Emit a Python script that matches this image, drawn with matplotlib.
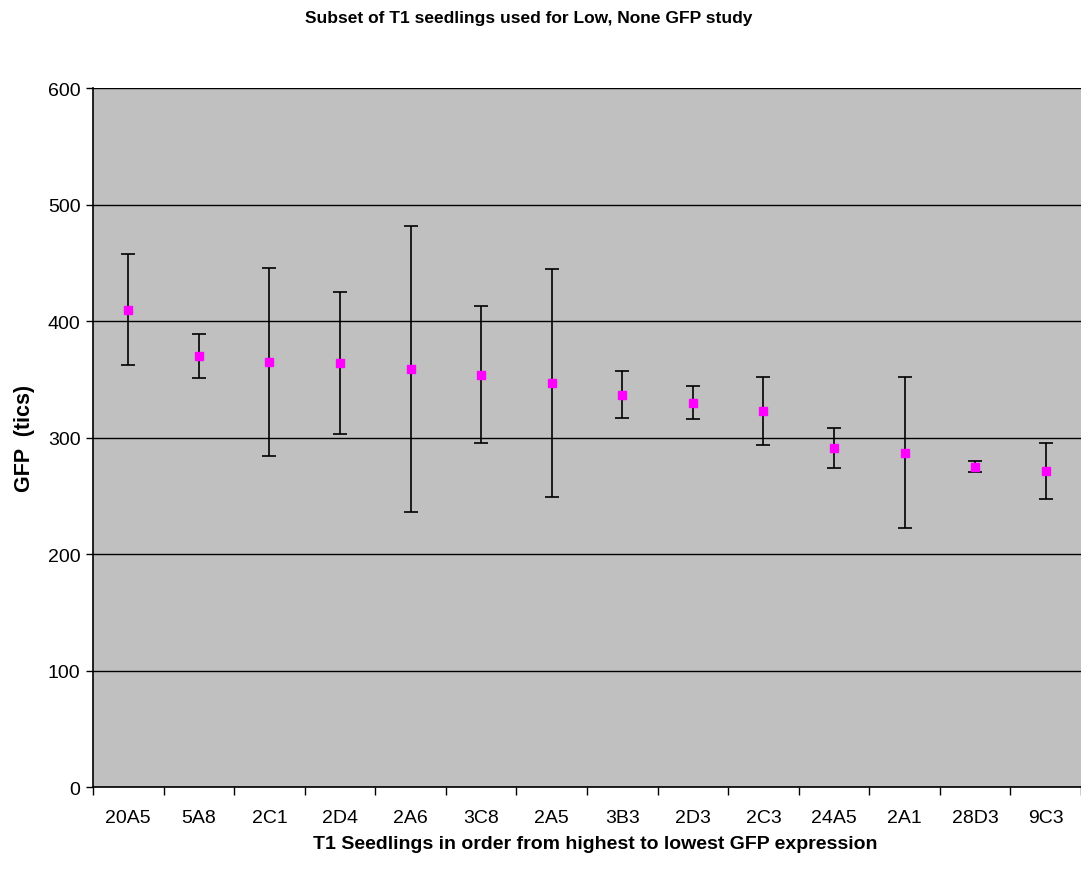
import matplotlib
matplotlib.use("Agg")
import matplotlib.pyplot as plt
import numpy as np

plt.rcParams['font.family'] = ['Liberation Sans', 'DejaVu Sans']

# T1 seedlings, highest to lowest mean GFP
seedlings = ['20A5', '5A8', '2C1', '2D4', '2A6', '3C8', '2A5',
             '3B3', '2D3', '2C3', '24A5', '2A1', '28D3', '9C3']
gfp_mean = [410, 370, 365, 364, 359, 354, 347, 337, 330, 323, 291, 287, 275, 271]
gfp_err = [48, 19, 81, 61, 123, 59, 98, 20, 14, 29, 17, 65, 4.5, 24]

fig = plt.figure(figsize=(10.81, 8.79), dpi=100)
ax = fig.add_axes([0.086, 0.1035, 0.914, 0.795])
ax.set_facecolor('#c0c0c0')

x = np.arange(len(seedlings))
ax.errorbar(x, gfp_mean, yerr=gfp_err, fmt='s', color='#ff00ff',
            markersize=6, ecolor='black', elinewidth=1.2,
            capsize=5, capthick=1.2, zorder=3)

ax.set_xlim(-0.5, len(seedlings) - 0.5)
ax.set_ylim(0, 600)
ax.set_yticks(range(0, 601, 100))
ax.yaxis.grid(True, color='black', linewidth=1)
ax.set_axisbelow(True)

# tick marks between categories, labels at category centres
ax.set_xticks(np.arange(-0.5, len(seedlings), 1.0))
ax.set_xticklabels([])
ax.set_xticks(x, minor=True)
ax.set_xticklabels(seedlings, minor=True)
ax.tick_params(axis='x', which='minor', length=0, pad=16, labelsize=14)
ax.tick_params(axis='x', which='major', length=6, width=1, direction='out')
ax.tick_params(axis='y', length=5, width=1, direction='out', labelsize=14, pad=4)

for side in ['top', 'right']:
    ax.spines[side].set_visible(False)
ax.spines['left'].set_linewidth(1.2)
ax.spines['bottom'].set_linewidth(1.2)

ax.set_xlabel('T1 Seedlings in order from highest to lowest GFP expression',
              fontsize=14, fontweight='bold', labelpad=1)
ax.xaxis.set_label_coords(0.508, -0.068)
ax.set_ylabel('GFP  (tics)', fontsize=15.5, fontweight='bold', labelpad=9)
fig.text(0.489, 0.979, 'Subset of T1 seedlings used for Low, None GFP study',
         ha='center', va='center', fontsize=12.5, fontweight='bold')

fig.savefig('out.png', dpi=100, facecolor='white')
